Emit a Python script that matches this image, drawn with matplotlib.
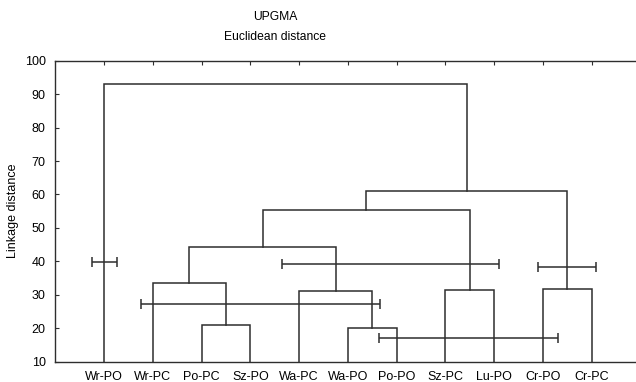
#!/usr/bin/env python3
"""
UPGMA dendrogram (Euclidean distance) with horizontal range bars.
"""

import matplotlib.pyplot as plt

plt.rcParams["font.family"] = ["Liberation Sans", "DejaVu Sans"]

# leaf labels, left to right
leaves = ["Wr-PO", "Wr-PC", "Po-PC", "Sz-PO", "Wa-PC", "Wa-PO",
          "Po-PO", "Sz-PC", "Lu-PO", "Cr-PO", "Cr-PC"]

# merges: (child a, child b, linkage distance); ids >= len(leaves) are merges
merge_a = [2, 5, 1, 4, 7, 9, 13, 17, 18, 0]
merge_b = [3, 6, 11, 12, 8, 10, 14, 15, 16, 19]
merge_h = [21.0, 20.0, 33.4, 31.1, 31.3, 31.6, 44.4, 55.4, 61.0, 93.1]

# horizontal range bars (x in leaf-position units, y = linkage distance)
bar_center = [1.01, 4.20, 6.87, 8.47, 10.49]
bar_halfwidth = [0.25, 2.45, 2.22, 1.83, 0.60]
bar_y = [39.8, 27.2, 39.3, 17.0, 38.4]

yticks = [10, 20, 30, 40, 50, 60, 70, 80, 90, 100]

LINE = "#2e2e2e"
W, H = 636, 382


def draw_dendrogram(ax, floor=10.0):
    n = len(leaves)
    xpos = {i: i + 1.0 for i in range(n)}
    ypos = {i: floor for i in range(n)}
    for k, (a, b, h) in enumerate(zip(merge_a, merge_b, merge_h)):
        node = n + k
        xa, xb = xpos[a], xpos[b]
        ax.plot([xa, xa, xb, xb], [ypos[a], h, h, ypos[b]],
                color=LINE, lw=1.1, solid_joinstyle="miter")
        xpos[node] = 0.5 * (xa + xb)
        ypos[node] = h


fig = plt.figure(figsize=(W / 100, H / 100), dpi=100)
left, right = 55.3, 55.3 + 12 * 48.77
top, bottom = 60.7, 361.7
ax = fig.add_axes([left / W, 1 - bottom / H, (right - left) / W, (bottom - top) / H])

draw_dendrogram(ax)

ax.errorbar(bar_center, bar_y, xerr=bar_halfwidth, fmt="none",
            ecolor=LINE, elinewidth=1.1, capsize=3.9, capthick=1.1)

ax.set_xlim(0, 12)
ax.set_ylim(10, 100)
ax.set_xticks(range(1, len(leaves) + 1))
ax.set_xticklabels(leaves, fontsize=9)
ax.set_yticks(yticks)
ax.set_yticklabels([str(v) for v in yticks], fontsize=9)
ax.tick_params(axis="x", direction="in", length=3, pad=7, top=True, bottom=False,
               color=LINE, width=0.8)
ax.tick_params(axis="y", direction="in", length=3, pad=7, color=LINE, width=0.8)
ax.spines["right"].set_visible(False)
for side in ["left", "top", "bottom"]:
    ax.spines[side].set_color(LINE)
    ax.spines[side].set_linewidth(1.0)

ax.set_ylabel("Linkage distance", fontsize=9)
ax.yaxis.set_label_coords((19.5 - left) / (right - left), 0.5)

fig.text(275.5 / W, 1 - 16.7 / H, "UPGMA", ha="center", va="center", fontsize=8.7)
fig.text(275.5 / W, 1 - 36.7 / H, "Euclidean distance", ha="center", va="center", fontsize=8.7)

fig.savefig("out.png", dpi=100)
